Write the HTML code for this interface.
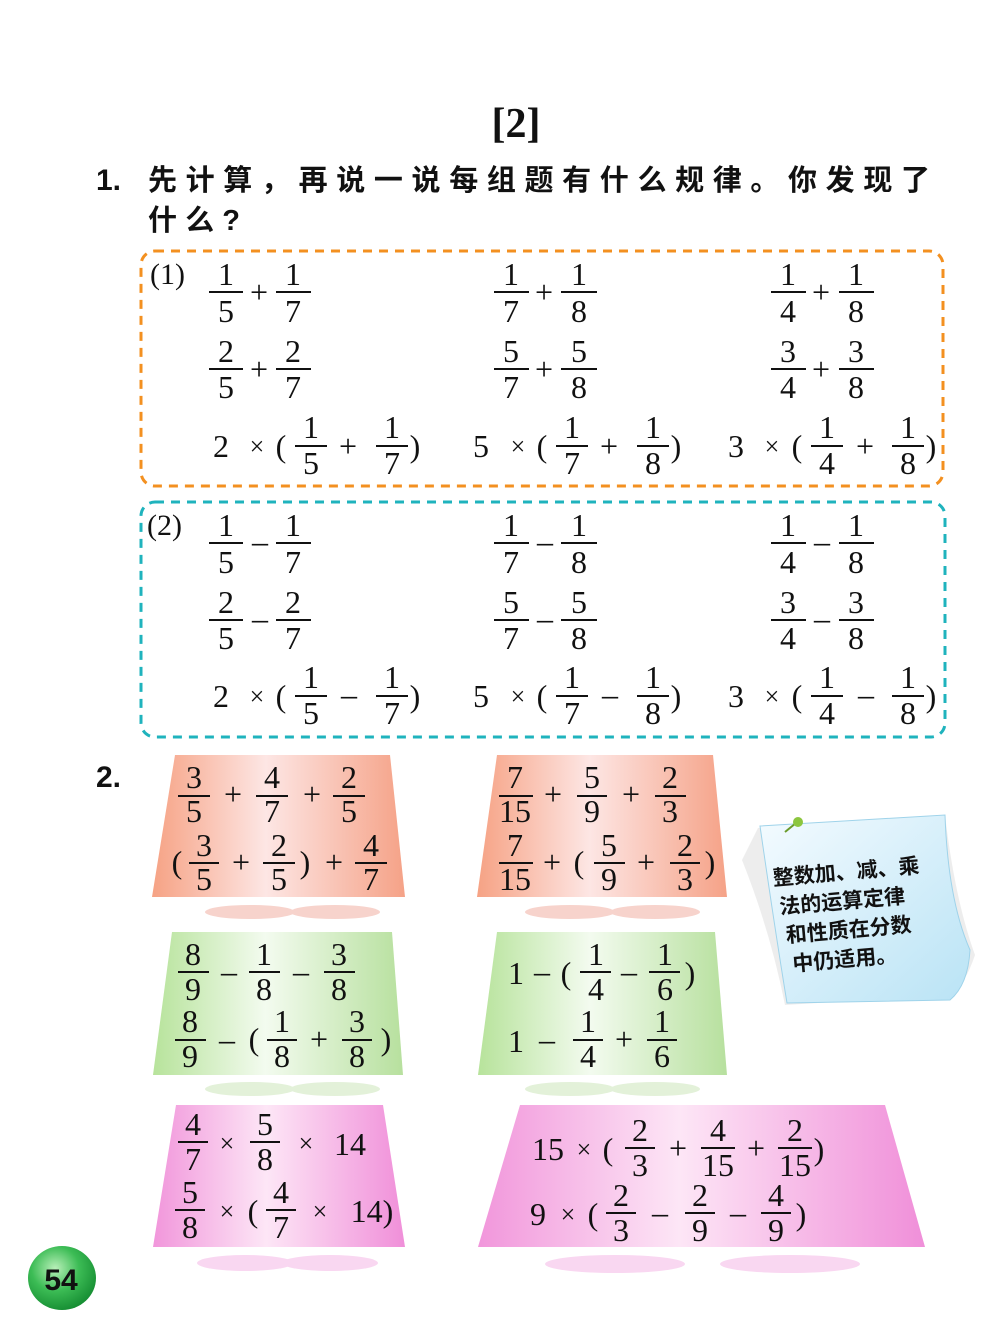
<!DOCTYPE html>
<html><head><meta charset="utf-8"><style>
html,body{margin:0;padding:0;background:#fff}
svg text{font-family:"Liberation Serif",serif;font-size:32px;fill:#111}
.c{text-anchor:middle}
.cn{font-family:"Liberation Sans","Noto Sans CJK SC",sans-serif !important}
</style></head><body>
<svg width="1000" height="1336" viewBox="0 0 1000 1336" xmlns="http://www.w3.org/2000/svg">
<defs>
<linearGradient id="gs" x1="0" x2="1"><stop offset="0" stop-color="#f6a284"/><stop offset=".45" stop-color="#fde6e4"/><stop offset="1" stop-color="#f5a287"/></linearGradient>
<linearGradient id="gg" x1="0" x2="1"><stop offset="0" stop-color="#b7e39b"/><stop offset=".45" stop-color="#f3fbef"/><stop offset="1" stop-color="#b7e09e"/></linearGradient>
<linearGradient id="gp" x1="0" x2="1"><stop offset="0" stop-color="#f196db"/><stop offset=".45" stop-color="#fde6f6"/><stop offset="1" stop-color="#f08fd9"/></linearGradient>
<radialGradient id="gb" cx=".4" cy=".35" r=".7"><stop offset="0" stop-color="#b9f0b9"/><stop offset=".5" stop-color="#3cbc55"/><stop offset="1" stop-color="#138a30"/></radialGradient>
<linearGradient id="gn" x1="0" x2="1" y1="0" y2="1"><stop offset="0" stop-color="#f4fbff"/><stop offset="1" stop-color="#b9e3f5"/></linearGradient>
</defs>

<text x="516" y="137" class="c" style="font-size:42px;font-weight:bold">[2]</text>
<text x="96" y="190" style="font-family:'Liberation Sans',sans-serif;font-size:30px;font-weight:bold">1.</text>
<text x="148" y="190" class="cn" style="font-size:29px;font-weight:bold" textLength="782" lengthAdjust="spacing">先计算，再说一说每组题有什么规律。你发现了</text>
<text x="148" y="230" class="cn" style="font-size:29px;font-weight:bold" textLength="92" lengthAdjust="spacing">什么?</text>

<rect x="141" y="251" width="802" height="235" rx="14" fill="none" stroke="#f39020" stroke-width="3" stroke-dasharray="9,7"/>
<rect x="141" y="502" width="804" height="235" rx="14" fill="none" stroke="#1fb3bd" stroke-width="3" stroke-dasharray="9,7"/>

<g id="s1">
<text x="150" y="284" style="font-size:30px">(1)</text>
<text x="226" y="285" class="c">1</text><line x1="209" x2="243" y1="292" y2="292" stroke="#111" stroke-width="2"/><text x="226" y="322" class="c">5</text>
<text x="259" y="303" class="c">+</text>
<text x="293" y="285" class="c">1</text><line x1="276" x2="311" y1="292" y2="292" stroke="#111" stroke-width="2"/><text x="293" y="322" class="c">7</text>
<text x="511" y="285" class="c">1</text><line x1="494" x2="529" y1="292" y2="292" stroke="#111" stroke-width="2"/><text x="511" y="322" class="c">7</text>
<text x="544" y="303" class="c">+</text>
<text x="579" y="285" class="c">1</text><line x1="561" x2="597" y1="292" y2="292" stroke="#111" stroke-width="2"/><text x="579" y="322" class="c">8</text>
<text x="788" y="285" class="c">1</text><line x1="771" x2="806" y1="292" y2="292" stroke="#111" stroke-width="2"/><text x="788" y="322" class="c">4</text>
<text x="821" y="303" class="c">+</text>
<text x="856" y="285" class="c">1</text><line x1="839" x2="874" y1="292" y2="292" stroke="#111" stroke-width="2"/><text x="856" y="322" class="c">8</text>
<text x="226" y="362" class="c">2</text><line x1="209" x2="243" y1="369" y2="369" stroke="#111" stroke-width="2"/><text x="226" y="398" class="c">5</text>
<text x="259" y="380" class="c">+</text>
<text x="293" y="362" class="c">2</text><line x1="276" x2="311" y1="369" y2="369" stroke="#111" stroke-width="2"/><text x="293" y="398" class="c">7</text>
<text x="511" y="362" class="c">5</text><line x1="494" x2="529" y1="369" y2="369" stroke="#111" stroke-width="2"/><text x="511" y="398" class="c">7</text>
<text x="544" y="380" class="c">+</text>
<text x="579" y="362" class="c">5</text><line x1="561" x2="597" y1="369" y2="369" stroke="#111" stroke-width="2"/><text x="579" y="398" class="c">8</text>
<text x="788" y="362" class="c">3</text><line x1="771" x2="806" y1="369" y2="369" stroke="#111" stroke-width="2"/><text x="788" y="398" class="c">4</text>
<text x="821" y="380" class="c">+</text>
<text x="856" y="362" class="c">3</text><line x1="839" x2="874" y1="369" y2="369" stroke="#111" stroke-width="2"/><text x="856" y="398" class="c">8</text>
<text x="221" y="457" class="c">2</text><text x="257" y="455" class="c" style="font-size:26px">×</text><text x="281" y="457" class="c">(</text>
<text x="311" y="438" class="c">1</text><line x1="295" x2="327" y1="446" y2="446" stroke="#111" stroke-width="2"/><text x="311" y="474" class="c">5</text>
<text x="348" y="457" class="c">+</text>
<text x="392" y="438" class="c">1</text><line x1="376" x2="408" y1="446" y2="446" stroke="#111" stroke-width="2"/><text x="392" y="474" class="c">7</text>
<text x="415" y="457" class="c">)</text>
<text x="481" y="457" class="c">5</text><text x="518" y="455" class="c" style="font-size:26px">×</text><text x="542" y="457" class="c">(</text>
<text x="572" y="438" class="c">1</text><line x1="556" x2="588" y1="446" y2="446" stroke="#111" stroke-width="2"/><text x="572" y="474" class="c">7</text>
<text x="609" y="457" class="c">+</text>
<text x="653" y="438" class="c">1</text><line x1="637" x2="669" y1="446" y2="446" stroke="#111" stroke-width="2"/><text x="653" y="474" class="c">8</text>
<text x="676" y="457" class="c">)</text>
<text x="736" y="457" class="c">3</text><text x="772" y="455" class="c" style="font-size:26px">×</text><text x="797" y="457" class="c">(</text>
<text x="827" y="438" class="c">1</text><line x1="811" x2="843" y1="446" y2="446" stroke="#111" stroke-width="2"/><text x="827" y="474" class="c">4</text>
<text x="865" y="457" class="c">+</text>
<text x="908" y="438" class="c">1</text><line x1="892" x2="924" y1="446" y2="446" stroke="#111" stroke-width="2"/><text x="908" y="474" class="c">8</text>
<text x="931" y="457" class="c">)</text>
</g>

<g>
<text x="147" y="535" style="font-size:30px">(2)</text>
<text x="226" y="536" class="c">1</text><line x1="209" x2="243" y1="543" y2="543" stroke="#111" stroke-width="2"/><text x="226" y="573" class="c">5</text>
<text x="260" y="552" class="c">–</text>
<text x="293" y="536" class="c">1</text><line x1="276" x2="311" y1="543" y2="543" stroke="#111" stroke-width="2"/><text x="293" y="573" class="c">7</text>
<text x="511" y="536" class="c">1</text><line x1="494" x2="529" y1="543" y2="543" stroke="#111" stroke-width="2"/><text x="511" y="573" class="c">7</text>
<text x="545" y="552" class="c">–</text>
<text x="579" y="536" class="c">1</text><line x1="561" x2="597" y1="543" y2="543" stroke="#111" stroke-width="2"/><text x="579" y="573" class="c">8</text>
<text x="788" y="536" class="c">1</text><line x1="771" x2="806" y1="543" y2="543" stroke="#111" stroke-width="2"/><text x="788" y="573" class="c">4</text>
<text x="822" y="552" class="c">–</text>
<text x="856" y="536" class="c">1</text><line x1="839" x2="874" y1="543" y2="543" stroke="#111" stroke-width="2"/><text x="856" y="573" class="c">8</text>
<text x="226" y="613" class="c">2</text><line x1="209" x2="243" y1="620" y2="620" stroke="#111" stroke-width="2"/><text x="226" y="649" class="c">5</text>
<text x="260" y="629" class="c">–</text>
<text x="293" y="613" class="c">2</text><line x1="276" x2="311" y1="620" y2="620" stroke="#111" stroke-width="2"/><text x="293" y="649" class="c">7</text>
<text x="511" y="613" class="c">5</text><line x1="494" x2="529" y1="620" y2="620" stroke="#111" stroke-width="2"/><text x="511" y="649" class="c">7</text>
<text x="545" y="629" class="c">–</text>
<text x="579" y="613" class="c">5</text><line x1="561" x2="597" y1="620" y2="620" stroke="#111" stroke-width="2"/><text x="579" y="649" class="c">8</text>
<text x="788" y="613" class="c">3</text><line x1="771" x2="806" y1="620" y2="620" stroke="#111" stroke-width="2"/><text x="788" y="649" class="c">4</text>
<text x="822" y="629" class="c">–</text>
<text x="856" y="613" class="c">3</text><line x1="839" x2="874" y1="620" y2="620" stroke="#111" stroke-width="2"/><text x="856" y="649" class="c">8</text>
<text x="221" y="707" class="c">2</text><text x="257" y="705" class="c" style="font-size:26px">×</text><text x="281" y="707" class="c">(</text>
<text x="311" y="688" class="c">1</text><line x1="295" x2="327" y1="696" y2="696" stroke="#111" stroke-width="2"/><text x="311" y="724" class="c">5</text>
<text x="349" y="705" class="c">–</text>
<text x="392" y="688" class="c">1</text><line x1="376" x2="408" y1="696" y2="696" stroke="#111" stroke-width="2"/><text x="392" y="724" class="c">7</text>
<text x="415" y="707" class="c">)</text>
<text x="481" y="707" class="c">5</text><text x="518" y="705" class="c" style="font-size:26px">×</text><text x="542" y="707" class="c">(</text>
<text x="572" y="688" class="c">1</text><line x1="556" x2="588" y1="696" y2="696" stroke="#111" stroke-width="2"/><text x="572" y="724" class="c">7</text>
<text x="610" y="705" class="c">–</text>
<text x="653" y="688" class="c">1</text><line x1="637" x2="669" y1="696" y2="696" stroke="#111" stroke-width="2"/><text x="653" y="724" class="c">8</text>
<text x="676" y="707" class="c">)</text>
<text x="736" y="707" class="c">3</text><text x="772" y="705" class="c" style="font-size:26px">×</text><text x="797" y="707" class="c">(</text>
<text x="827" y="688" class="c">1</text><line x1="811" x2="843" y1="696" y2="696" stroke="#111" stroke-width="2"/><text x="827" y="724" class="c">4</text>
<text x="866" y="705" class="c">–</text>
<text x="908" y="688" class="c">1</text><line x1="892" x2="924" y1="696" y2="696" stroke="#111" stroke-width="2"/><text x="908" y="724" class="c">8</text>
<text x="931" y="707" class="c">)</text>
</g>

<text x="96" y="787" style="font-family:'Liberation Sans',sans-serif;font-size:30px;font-weight:bold">2.</text>

<polygon points="175,755 390,755 405,897 152,897" fill="url(#gs)"/>
<polygon points="497,755 713,755 727,897 477,897" fill="url(#gs)"/>
<polygon points="172,932 392,932 403,1075 153,1075" fill="url(#gg)"/>
<polygon points="497,932 715,932 727,1075 478,1075" fill="url(#gg)"/>
<polygon points="176,1105 383,1105 405,1247 153,1247" fill="url(#gp)"/>
<polygon points="520,1105 885,1105 925,1247 478,1247" fill="url(#gp)"/>
<ellipse cx="250" cy="912" rx="45" ry="7" fill="#f7d3cc"/><ellipse cx="335" cy="912" rx="45" ry="7" fill="#f7d3cc"/>
<ellipse cx="570" cy="912" rx="45" ry="7" fill="#f7d3cc"/><ellipse cx="655" cy="912" rx="45" ry="7" fill="#f7d3cc"/>
<ellipse cx="250" cy="1089" rx="45" ry="7" fill="#e3f1d9"/><ellipse cx="335" cy="1089" rx="45" ry="7" fill="#e3f1d9"/>
<ellipse cx="570" cy="1089" rx="45" ry="7" fill="#e3f1d9"/><ellipse cx="655" cy="1089" rx="45" ry="7" fill="#e3f1d9"/>
<ellipse cx="245" cy="1263" rx="48" ry="8" fill="#f9d7f1"/><ellipse cx="330" cy="1263" rx="48" ry="8" fill="#f9d7f1"/>
<ellipse cx="615" cy="1264" rx="70" ry="9" fill="#f9d7f1"/><ellipse cx="790" cy="1264" rx="70" ry="9" fill="#f9d7f1"/>

<text x="194" y="788" class="c">3</text><line x1="178" x2="210" y1="796" y2="796" stroke="#111" stroke-width="2"/><text x="194" y="822" class="c">5</text>
<text x="233" y="805" class="c">+</text>
<text x="272" y="788" class="c">4</text><line x1="256" x2="288" y1="796" y2="796" stroke="#111" stroke-width="2"/><text x="272" y="822" class="c">7</text>
<text x="312" y="805" class="c">+</text>
<text x="349" y="788" class="c">2</text><line x1="333" x2="365" y1="796" y2="796" stroke="#111" stroke-width="2"/><text x="349" y="822" class="c">5</text>
<text x="177" y="873" class="c">(</text>
<text x="204" y="856" class="c">3</text><line x1="189" x2="219" y1="863" y2="863" stroke="#111" stroke-width="2"/><text x="204" y="890" class="c">5</text>
<text x="241" y="873" class="c">+</text>
<text x="279" y="856" class="c">2</text><line x1="263" x2="295" y1="863" y2="863" stroke="#111" stroke-width="2"/><text x="279" y="890" class="c">5</text>
<text x="305" y="873" class="c">)</text>
<text x="334" y="873" class="c">+</text>
<text x="371" y="856" class="c">4</text><line x1="355" x2="387" y1="863" y2="863" stroke="#111" stroke-width="2"/><text x="371" y="890" class="c">7</text>
<text x="515" y="788" class="c">7</text><line x1="499" x2="533" y1="796" y2="796" stroke="#111" stroke-width="2"/><text x="515" y="822" class="c">15</text>
<text x="553" y="805" class="c">+</text>
<text x="592" y="788" class="c">5</text><line x1="577" x2="607" y1="796" y2="796" stroke="#111" stroke-width="2"/><text x="592" y="822" class="c">9</text>
<text x="631" y="805" class="c">+</text>
<text x="670" y="788" class="c">2</text><line x1="655" x2="686" y1="796" y2="796" stroke="#111" stroke-width="2"/><text x="670" y="822" class="c">3</text>
<text x="515" y="856" class="c">7</text><line x1="499" x2="533" y1="863" y2="863" stroke="#111" stroke-width="2"/><text x="515" y="890" class="c">15</text>
<text x="552" y="873" class="c">+</text>
<text x="579" y="873" class="c">(</text>
<text x="609" y="856" class="c">5</text><line x1="594" x2="625" y1="863" y2="863" stroke="#111" stroke-width="2"/><text x="609" y="890" class="c">9</text>
<text x="646" y="873" class="c">+</text>
<text x="685" y="856" class="c">2</text><line x1="670" x2="700" y1="863" y2="863" stroke="#111" stroke-width="2"/><text x="685" y="890" class="c">3</text>
<text x="710" y="873" class="c">)</text>
<text x="193" y="965" class="c">8</text><line x1="178" x2="209" y1="972" y2="972" stroke="#111" stroke-width="2"/><text x="193" y="1000" class="c">9</text>
<text x="229" y="982" class="c">–</text>
<text x="264" y="965" class="c">1</text><line x1="249" x2="280" y1="972" y2="972" stroke="#111" stroke-width="2"/><text x="264" y="1000" class="c">8</text>
<text x="301" y="982" class="c">–</text>
<text x="339" y="965" class="c">3</text><line x1="324" x2="355" y1="972" y2="972" stroke="#111" stroke-width="2"/><text x="339" y="1000" class="c">8</text>
<text x="190" y="1032" class="c">8</text><line x1="175" x2="206" y1="1040" y2="1040" stroke="#111" stroke-width="2"/><text x="190" y="1067" class="c">9</text>
<text x="227" y="1050" class="c">–</text>
<text x="254" y="1050" class="c">(</text>
<text x="282" y="1032" class="c">1</text><line x1="267" x2="297" y1="1040" y2="1040" stroke="#111" stroke-width="2"/><text x="282" y="1067" class="c">8</text>
<text x="319" y="1050" class="c">+</text>
<text x="357" y="1032" class="c">3</text><line x1="342" x2="372" y1="1040" y2="1040" stroke="#111" stroke-width="2"/><text x="357" y="1067" class="c">8</text>
<text x="386" y="1050" class="c">)</text>
<text x="516" y="984" class="c">1</text><text x="542" y="982" class="c">–</text><text x="566" y="984" class="c">(</text>
<text x="596" y="965" class="c">1</text><line x1="580" x2="611" y1="972" y2="972" stroke="#111" stroke-width="2"/><text x="596" y="1000" class="c">4</text>
<text x="629" y="982" class="c">–</text>
<text x="665" y="965" class="c">1</text><line x1="649" x2="680" y1="972" y2="972" stroke="#111" stroke-width="2"/><text x="665" y="1000" class="c">6</text>
<text x="690" y="984" class="c">)</text>
<text x="516" y="1052" class="c">1</text><text x="547" y="1050" class="c">–</text>
<text x="588" y="1032" class="c">1</text><line x1="573" x2="603" y1="1040" y2="1040" stroke="#111" stroke-width="2"/><text x="588" y="1067" class="c">4</text>
<text x="624" y="1050" class="c">+</text>
<text x="662" y="1032" class="c">1</text><line x1="647" x2="677" y1="1040" y2="1040" stroke="#111" stroke-width="2"/><text x="662" y="1067" class="c">6</text>
<text x="193" y="1135" class="c">4</text><line x1="178" x2="208" y1="1142" y2="1142" stroke="#111" stroke-width="2"/><text x="193" y="1170" class="c">7</text>
<text x="227" y="1152" class="c" style="font-size:26px">×</text>
<text x="265" y="1135" class="c">5</text><line x1="250" x2="280" y1="1142" y2="1142" stroke="#111" stroke-width="2"/><text x="265" y="1170" class="c">8</text>
<text x="306" y="1152" class="c" style="font-size:26px">×</text>
<text x="350" y="1155" class="c">14</text>
<text x="190" y="1203" class="c">5</text><line x1="175" x2="205" y1="1210" y2="1210" stroke="#111" stroke-width="2"/><text x="190" y="1238" class="c">8</text>
<text x="227" y="1220" class="c" style="font-size:26px">×</text><text x="253" y="1222" class="c">(</text>
<text x="281" y="1203" class="c">4</text><line x1="266" x2="296" y1="1210" y2="1210" stroke="#111" stroke-width="2"/><text x="281" y="1238" class="c">7</text>
<text x="320" y="1220" class="c" style="font-size:26px">×</text>
<text x="372" y="1222" class="c">14)</text>
<text x="548" y="1160" class="c">15</text><text x="584" y="1158" class="c" style="font-size:26px">×</text><text x="608" y="1160" class="c">(</text>
<text x="640" y="1141" class="c">2</text><line x1="625" x2="655" y1="1148" y2="1148" stroke="#111" stroke-width="2"/><text x="640" y="1176" class="c">3</text>
<text x="678" y="1159" class="c">+</text>
<text x="718" y="1141" class="c">4</text><line x1="701" x2="735" y1="1148" y2="1148" stroke="#111" stroke-width="2"/><text x="718" y="1176" class="c">15</text>
<text x="756" y="1159" class="c">+</text>
<text x="795" y="1141" class="c">2</text><line x1="778" x2="812" y1="1148" y2="1148" stroke="#111" stroke-width="2"/><text x="795" y="1176" class="c">15</text>
<text x="819" y="1160" class="c">)</text>
<text x="538" y="1225" class="c">9</text><text x="568" y="1223" class="c" style="font-size:26px">×</text><text x="593" y="1225" class="c">(</text>
<text x="621" y="1206" class="c">2</text><line x1="606" x2="636" y1="1213" y2="1213" stroke="#111" stroke-width="2"/><text x="621" y="1241" class="c">3</text>
<text x="660" y="1223" class="c">–</text>
<text x="700" y="1206" class="c">2</text><line x1="685" x2="715" y1="1213" y2="1213" stroke="#111" stroke-width="2"/><text x="700" y="1241" class="c">9</text>
<text x="738" y="1223" class="c">–</text>
<text x="776" y="1206" class="c">4</text><line x1="761" x2="791" y1="1213" y2="1213" stroke="#111" stroke-width="2"/><text x="776" y="1241" class="c">9</text>
<text x="801" y="1225" class="c">)</text>

<path d="M742,860 Q770,930 785,1005 L950,995 Q965,985 975,955 Q955,900 945,815 L758,828 Z" fill="#ccc" opacity=".35"/>
<path d="M760,826 L945,815 Q948,900 970,950 Q968,985 950,1000 L787,1003 Q775,930 760,826 Z" fill="url(#gn)" stroke="#9fd3ea" stroke-width="1"/>
<line x1="785" y1="832" x2="796" y2="823" stroke="#6a9b2a" stroke-width="2"/>
<circle cx="798" cy="822" r="5" fill="#8cc63f"/>
<g transform="rotate(-5 860 910)">
<text x="776" y="878" class="cn" style="font-size:21px;font-weight:bold">整数加、减、乘</text>
<text x="780" y="907" class="cn" style="font-size:21px;font-weight:bold">法的运算定律</text>
<text x="784" y="936" class="cn" style="font-size:21px;font-weight:bold">和性质在分数</text>
<text x="788" y="965" class="cn" style="font-size:21px;font-weight:bold">中仍适用。</text>
</g>

<ellipse cx="62" cy="1278" rx="34" ry="32" fill="url(#gb)"/>
<text x="61" y="1290" class="c" style="font-family:'Liberation Sans',sans-serif;font-size:30px;font-weight:bold">54</text>
</svg>
</body></html>
